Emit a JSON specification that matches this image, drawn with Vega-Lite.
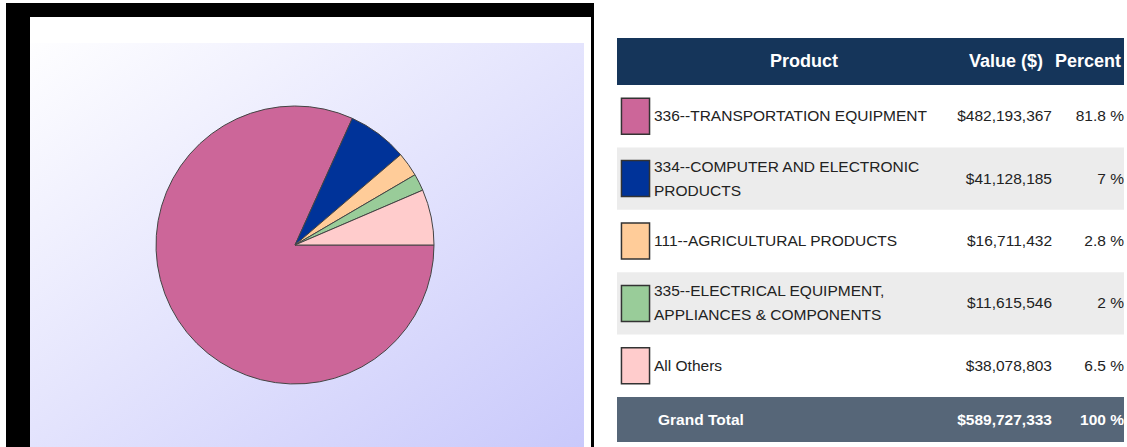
{
  "$schema": "https://vega.github.io/schema/vega-lite/v6.json",
  "background": "white",
  "padding": {"left": 6, "top": 3, "right": 0, "bottom": 0},
  "config": {
    "view": {"stroke": null},
    "text": {"font": "Liberation Sans, Arial, sans-serif"}
  },
  "datasets": {
    "products": [
      {"rank": 1, "product": "336--TRANSPORTATION EQUIPMENT", "value": 482193367, "percent": "81.8 %"},
      {"rank": 2, "product": "334--COMPUTER AND ELECTRONIC\nPRODUCTS", "value": 41128185, "percent": "7 %"},
      {"rank": 3, "product": "111--AGRICULTURAL PRODUCTS", "value": 16711432, "percent": "2.8 %"},
      {"rank": 4, "product": "335--ELECTRICAL EQUIPMENT,\nAPPLIANCES & COMPONENTS", "value": 11615546, "percent": "2 %"},
      {"rank": 5, "product": "All Others", "value": 38078803, "percent": "6.5 %"}
    ],
    "header": [{"product": "Product", "value": "Value ($)", "percent": "Percent"}],
    "total": [{"label": "Grand Total", "value": 589727333, "percent": "100 %"}]
  },
  "spacing": 23,
  "hconcat": [
    {
      "spacing": 0,
      "vconcat": [
        {
          "width": 588, "height": 40,
          "data": {"name": "header"},
          "layer": [
            {"mark": {"type": "rect", "strokeWidth": 0, "fill": {"gradient": "linear", "x1": 0, "y1": 0, "x2": 0, "y2": 1, "stops": [{"offset": 0, "color": "#000000"}, {"offset": 0.35, "color": "#000000"}, {"offset": 0.35, "color": "#ffffff"}, {"offset": 1, "color": "#ffffff"}]}}, "encoding": {}},
            {"mark": {"type": "rect", "strokeWidth": 0, "fill": {"gradient": "linear", "x1": 0, "y1": 0, "x2": 1, "y2": 0, "stops": [{"offset": 0, "color": "#000000"}, {"offset": 0.0408, "color": "#000000"}, {"offset": 0.0408, "color": "rgba(255,255,255,0)"}, {"offset": 0.9949, "color": "rgba(255,255,255,0)"}, {"offset": 0.9949, "color": "#000000"}, {"offset": 1, "color": "#000000"}]}}, "encoding": {}}
          ]
        },
        {
          "spacing": 0,
          "bounds": "flush",
          "hconcat": [
            {
              "width": 578, "height": 404,
              "data": {"name": "products"},
              "layer": [
                {"data": {"name": "header"}, "mark": {"type": "rect", "strokeWidth": 0, "fill": {"gradient": "linear", "x1": 0, "y1": 0, "x2": 1, "y2": 1, "stops": [{"offset": 0, "color": "#ffffff"}, {"offset": 1, "color": "#c9c9fb"}]}}, "encoding": {}},
                {"data": {"name": "header"}, "mark": {"type": "rect", "strokeWidth": 0, "fill": {"gradient": "linear", "x1": 0, "y1": 0, "x2": 1, "y2": 0, "stops": [{"offset": 0, "color": "#000000"}, {"offset": 0.0415, "color": "#000000"}, {"offset": 0.0415, "color": "rgba(255,255,255,0)"}, {"offset": 1, "color": "rgba(255,255,255,0)"}]}}, "encoding": {}},
                {
                  "mark": {"type": "arc", "radius": 139, "stroke": "#444444", "strokeWidth": 1},
                  "encoding": {
                    "theta": {"field": "value", "type": "quantitative", "stack": true, "scale": {"range": [1.5708, 7.854]}},
                    "order": {"field": "rank", "type": "ordinal"},
                    "color": {"field": "rank", "type": "ordinal", "legend": null, "scale": {"domain": [1, 2, 3, 4, 5], "range": ["#cc6699", "#003399", "#ffcc99", "#99cc99", "#ffcccc"]}}
                  }
                }
              ]
            },
            {
              "width": 10, "height": 404,
              "data": {"name": "header"},
              "mark": {"type": "rect", "strokeWidth": 0, "fill": {"gradient": "linear", "x1": 0, "y1": 0, "x2": 1, "y2": 0, "stops": [{"offset": 0, "color": "#ffffff"}, {"offset": 0.7, "color": "#ffffff"}, {"offset": 0.7, "color": "#000000"}, {"offset": 1, "color": "#000000"}]}},
              "encoding": {}
            }
          ]
        }
      ]
    },
    {
      "spacing": 0,
      "vconcat": [
        {
          "width": 507, "height": 35,
          "data": {"name": "header"},
          "mark": {"type": "rect", "fill": "#ffffff", "strokeWidth": 0},
          "encoding": {}
        },
        {
          "spacing": 0,
          "bounds": "flush",
          "hconcat": [
            {"width": 31, "height": 47, "data": {"name": "header"}, "mark": {"type": "rect", "fill": "#15355a", "strokeWidth": 0}, "encoding": {}},
            {"width": 312, "height": 47, "data": {"name": "header"}, "layer": [
              {"mark": {"type": "rect", "fill": "#15355a", "strokeWidth": 0}, "encoding": {}},
              {"mark": {"type": "text", "fontSize": 18, "fontWeight": "bold", "color": "#ffffff", "align": "center", "baseline": "middle"}, "encoding": {"text": {"field": "product"}}}
            ]},
            {"width": 92, "height": 47, "data": {"name": "header"}, "layer": [
              {"mark": {"type": "rect", "fill": "#15355a", "strokeWidth": 0}, "encoding": {}},
              {"mark": {"type": "text", "fontSize": 18, "fontWeight": "bold", "color": "#ffffff", "align": "center", "baseline": "middle"}, "encoding": {"text": {"field": "value"}}}
            ]},
            {"width": 72, "height": 47, "data": {"name": "header"}, "layer": [
              {"mark": {"type": "rect", "fill": "#15355a", "strokeWidth": 0}, "encoding": {}},
              {"mark": {"type": "text", "fontSize": 18, "fontWeight": "bold", "color": "#ffffff", "align": "center", "baseline": "middle"}, "encoding": {"text": {"field": "percent"}}}
            ]}
          ]
        },
        {
          "spacing": 0,
          "bounds": "flush",
          "hconcat": [
            {"width": 37, "height": 312, "data": {"name": "products"}, "layer": [
              {"transform": [{"filter": "datum.rank % 2 == 0"}], "mark": {"type": "rect", "fill": "#ececec", "strokeWidth": 0}, "encoding": {"y": {"field": "rank", "type": "ordinal", "axis": null, "scale": {"paddingInner": 0, "paddingOuter": 0}}}},
              {"mark": {"type": "point", "shape": "M-0.78,-1L0.78,-1L0.78,1L-0.78,1Z", "size": 1296, "filled": true, "opacity": 1, "stroke": "#333333", "strokeWidth": 1.5},
               "encoding": {
                 "y": {"field": "rank", "type": "ordinal", "axis": null},
                 "color": {"field": "rank", "type": "ordinal", "legend": null, "scale": {"domain": [1, 2, 3, 4, 5], "range": ["#cc6699", "#003399", "#ffcc99", "#99cc99", "#ffcccc"]}}
               }}
            ]},
            {"width": 298, "height": 312, "data": {"name": "products"}, "layer": [
              {"transform": [{"filter": "datum.rank % 2 == 0"}], "mark": {"type": "rect", "fill": "#ececec", "strokeWidth": 0}, "encoding": {"y": {"field": "rank", "type": "ordinal", "axis": null, "scale": {"paddingInner": 0, "paddingOuter": 0}}}},
              {"transform": [{"filter": "indexof(datum.product, '\\n') < 0"}],
               "mark": {"type": "text", "fontSize": 15.5, "color": "#222222", "align": "left", "baseline": "middle"},
               "encoding": {"y": {"field": "rank", "type": "ordinal", "axis": null}, "x": {"value": 0}, "text": {"field": "product"}}},
              {"transform": [{"filter": "indexof(datum.product, '\\n') >= 0"}],
               "mark": {"type": "text", "fontSize": 15.5, "color": "#222222", "align": "left", "baseline": "middle", "lineBreak": "\n", "lineHeight": 24, "dy": -12},
               "encoding": {"y": {"field": "rank", "type": "ordinal", "axis": null}, "x": {"value": 0}, "text": {"field": "product"}}}
            ]},
            {"width": 100, "height": 312, "data": {"name": "products"}, "layer": [
              {"transform": [{"filter": "datum.rank % 2 == 0"}], "mark": {"type": "rect", "fill": "#ececec", "strokeWidth": 0}, "encoding": {"y": {"field": "rank", "type": "ordinal", "axis": null, "scale": {"paddingInner": 0, "paddingOuter": 0}}}},
              {"mark": {"type": "text", "fontSize": 15.5, "color": "#222222", "align": "right", "baseline": "middle"},
               "encoding": {"y": {"field": "rank", "type": "ordinal", "axis": null}, "x": {"value": "width"}, "text": {"field": "value", "type": "quantitative", "format": "$,.0f"}}}
            ]},
            {"width": 72, "height": 312, "data": {"name": "products"}, "layer": [
              {"transform": [{"filter": "datum.rank % 2 == 0"}], "mark": {"type": "rect", "fill": "#ececec", "strokeWidth": 0}, "encoding": {"y": {"field": "rank", "type": "ordinal", "axis": null, "scale": {"paddingInner": 0, "paddingOuter": 0}}}},
              {"mark": {"type": "text", "fontSize": 15.5, "color": "#222222", "align": "right", "baseline": "middle"},
               "encoding": {"y": {"field": "rank", "type": "ordinal", "axis": null}, "x": {"value": "width"}, "text": {"field": "percent"}}}
            ]}
          ]
        },
        {
          "spacing": 0,
          "bounds": "flush",
          "hconcat": [
            {"width": 41, "height": 45, "data": {"name": "total"}, "mark": {"type": "rect", "fill": "#566678", "strokeWidth": 0}, "encoding": {}},
            {"width": 294, "height": 45, "data": {"name": "total"}, "layer": [
              {"mark": {"type": "rect", "fill": "#566678", "strokeWidth": 0}, "encoding": {}},
              {"mark": {"type": "text", "fontSize": 15.5, "fontWeight": "bold", "color": "#ffffff", "align": "left", "baseline": "middle"}, "encoding": {"x": {"value": 0}, "text": {"field": "label"}}}
            ]},
            {"width": 100, "height": 45, "data": {"name": "total"}, "layer": [
              {"mark": {"type": "rect", "fill": "#566678", "strokeWidth": 0}, "encoding": {}},
              {"mark": {"type": "text", "fontSize": 15.5, "fontWeight": "bold", "color": "#ffffff", "align": "right", "baseline": "middle"}, "encoding": {"x": {"value": "width"}, "text": {"field": "value", "type": "quantitative", "format": "$,.0f"}}}
            ]},
            {"width": 72, "height": 45, "data": {"name": "total"}, "layer": [
              {"mark": {"type": "rect", "fill": "#566678", "strokeWidth": 0}, "encoding": {}},
              {"mark": {"type": "text", "fontSize": 15.5, "fontWeight": "bold", "color": "#ffffff", "align": "right", "baseline": "middle"}, "encoding": {"x": {"value": "width"}, "text": {"field": "percent"}}}
            ]}
          ]
        }
      ]
    }
  ]
}
